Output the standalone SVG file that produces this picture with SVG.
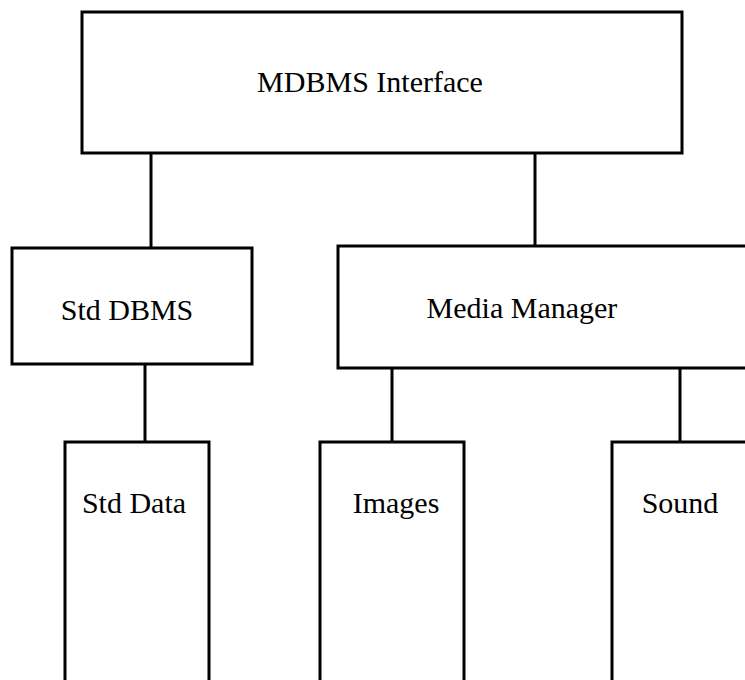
<svg xmlns="http://www.w3.org/2000/svg" width="745" height="680" viewBox="0 0 745 680">
<style>
.box{fill:none;stroke:#000;stroke-width:3}
.con{stroke:#000;stroke-width:3;fill:none}
.lbl{font-family:"Liberation Serif","Times New Roman",serif;font-size:30px;fill:#000;text-anchor:middle}
</style>
<rect width="745" height="680" fill="#fff"/>
<g id="connectors">
<line class="con" x1="151" y1="153" x2="151" y2="248"/>
<line class="con" x1="535" y1="153" x2="535" y2="246"/>
<line class="con" x1="145" y1="364" x2="145" y2="442"/>
<line class="con" x1="392" y1="368" x2="392" y2="442"/>
<line class="con" x1="680" y1="368" x2="680" y2="442"/>
</g>
<g id="mdbms-interface">
<rect class="box" x="82" y="12" width="600" height="141"/>
<text class="lbl" x="370" y="92">MDBMS Interface</text>
</g>
<g id="std-dbms">
<rect class="box" x="12" y="248" width="240" height="116"/>
<text class="lbl" x="127" y="320">Std DBMS</text>
</g>
<g id="media-manager">
<path class="box" d="M760,246 H338 V368 H760"/>
<text class="lbl" x="522" y="318">Media Manager</text>
</g>
<g id="std-data">
<path class="box" d="M65,690 V442 H209 V690"/>
<text class="lbl" x="134" y="513">Std Data</text>
</g>
<g id="images">
<path class="box" d="M320,690 V442 H464 V690"/>
<text class="lbl" x="396" y="513">Images</text>
</g>
<g id="sound">
<path class="box" d="M612,690 V442 H760"/>
<text class="lbl" x="680" y="513">Sound</text>
</g>
</svg>
